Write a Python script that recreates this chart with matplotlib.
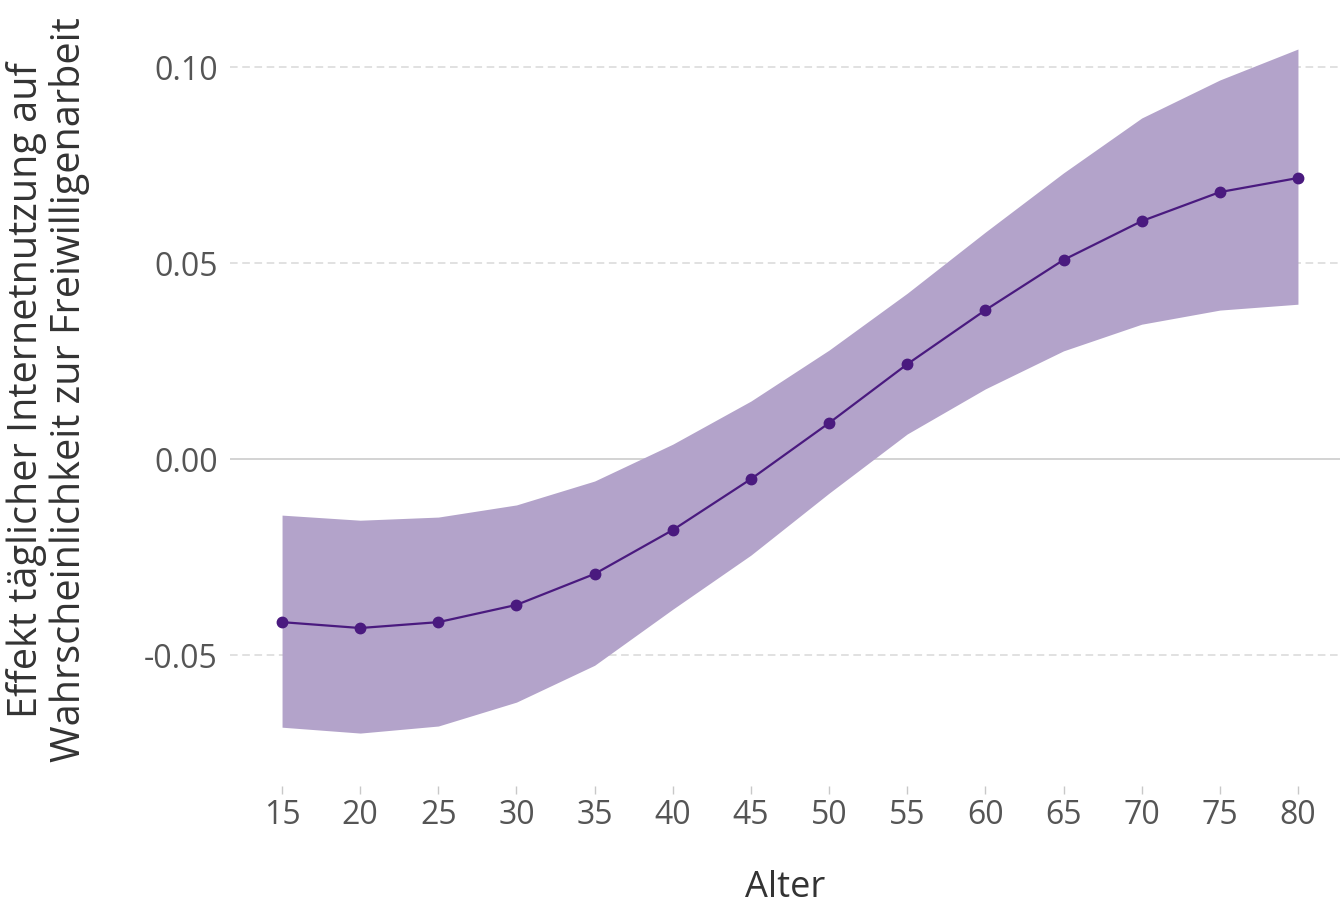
import matplotlib
matplotlib.use("Agg")
import matplotlib.pyplot as plt

plt.rcParams["font.family"] = ["Open Sans", "DejaVu Sans"]

# Alter und Effekt (mit Konfidenzband)
alter = [15, 20, 25, 30, 35, 40, 45, 50, 55, 60, 65, 70, 75, 80]
effekt = [-0.0416, -0.0431, -0.0416, -0.0372, -0.0293, -0.0181, -0.0051,
          0.0092, 0.0242, 0.0380, 0.0508, 0.0607, 0.0681, 0.0717]
ober = [-0.0143, -0.0156, -0.0148, -0.0117, -0.0056, 0.0038, 0.0148,
        0.0278, 0.0423, 0.0579, 0.0730, 0.0870, 0.0967, 0.1046]
unter = [-0.0684, -0.0699, -0.0681, -0.0620, -0.0526, -0.0383, -0.0245,
         -0.0087, 0.0064, 0.0179, 0.0276, 0.0344, 0.0380, 0.0395]
y_ticks = [-0.05, 0.00, 0.05, 0.10]
y_labels = ["-0.05", "0.00", "0.05", "0.10"]

W, H = 1340, 905
fig = plt.figure(figsize=(W / 100, H / 100), dpi=100)
ax = fig.add_axes([230 / W, 1 - 786 / H, (1340 - 230) / W, (786 - 40) / H])

ax.fill_between(alter, unter, ober, color="#b3a3ca", linewidth=0, zorder=2)
ax.plot(alter, effekt, color="#4a1a7f", linewidth=1.6, marker="o",
        markersize=7.5, zorder=3)

for t in y_ticks:
    if t == 0:
        ax.axhline(t, color="#cccccc", linewidth=1.2, zorder=1)
    else:
        ax.axhline(t, color="#d9d9d9", linewidth=1.1, linestyle=(0, (5, 3)), zorder=1)

ax.set_xlim(11.67, 82.69)
ax.set_ylim(-0.0834, 0.1069)
ax.set_xticks(alter)
ax.set_yticks(y_ticks)
ax.set_yticklabels(y_labels)

for s in ax.spines.values():
    s.set_visible(False)
ax.tick_params(axis="x", length=5.5, width=1, color="#c8c8c8", pad=3.5,
               labelsize=23, labelcolor="#555555")
ax.tick_params(axis="y", length=0, pad=9, labelsize=23, labelcolor="#555555")

ax.set_xlabel("Alter", fontsize=26, color="#333333", labelpad=28)
fig.text(48 / W, 1 - 390 / H,
         "Effekt täglicher Internetnutzung auf\nWahrscheinlichkeit zur Freiwilligenarbeit",
         rotation=90, ha="center", va="center", multialignment="center",
         fontsize=28.5, color="#333333", linespacing=1.05)

fig.savefig("out.png", dpi=100)
